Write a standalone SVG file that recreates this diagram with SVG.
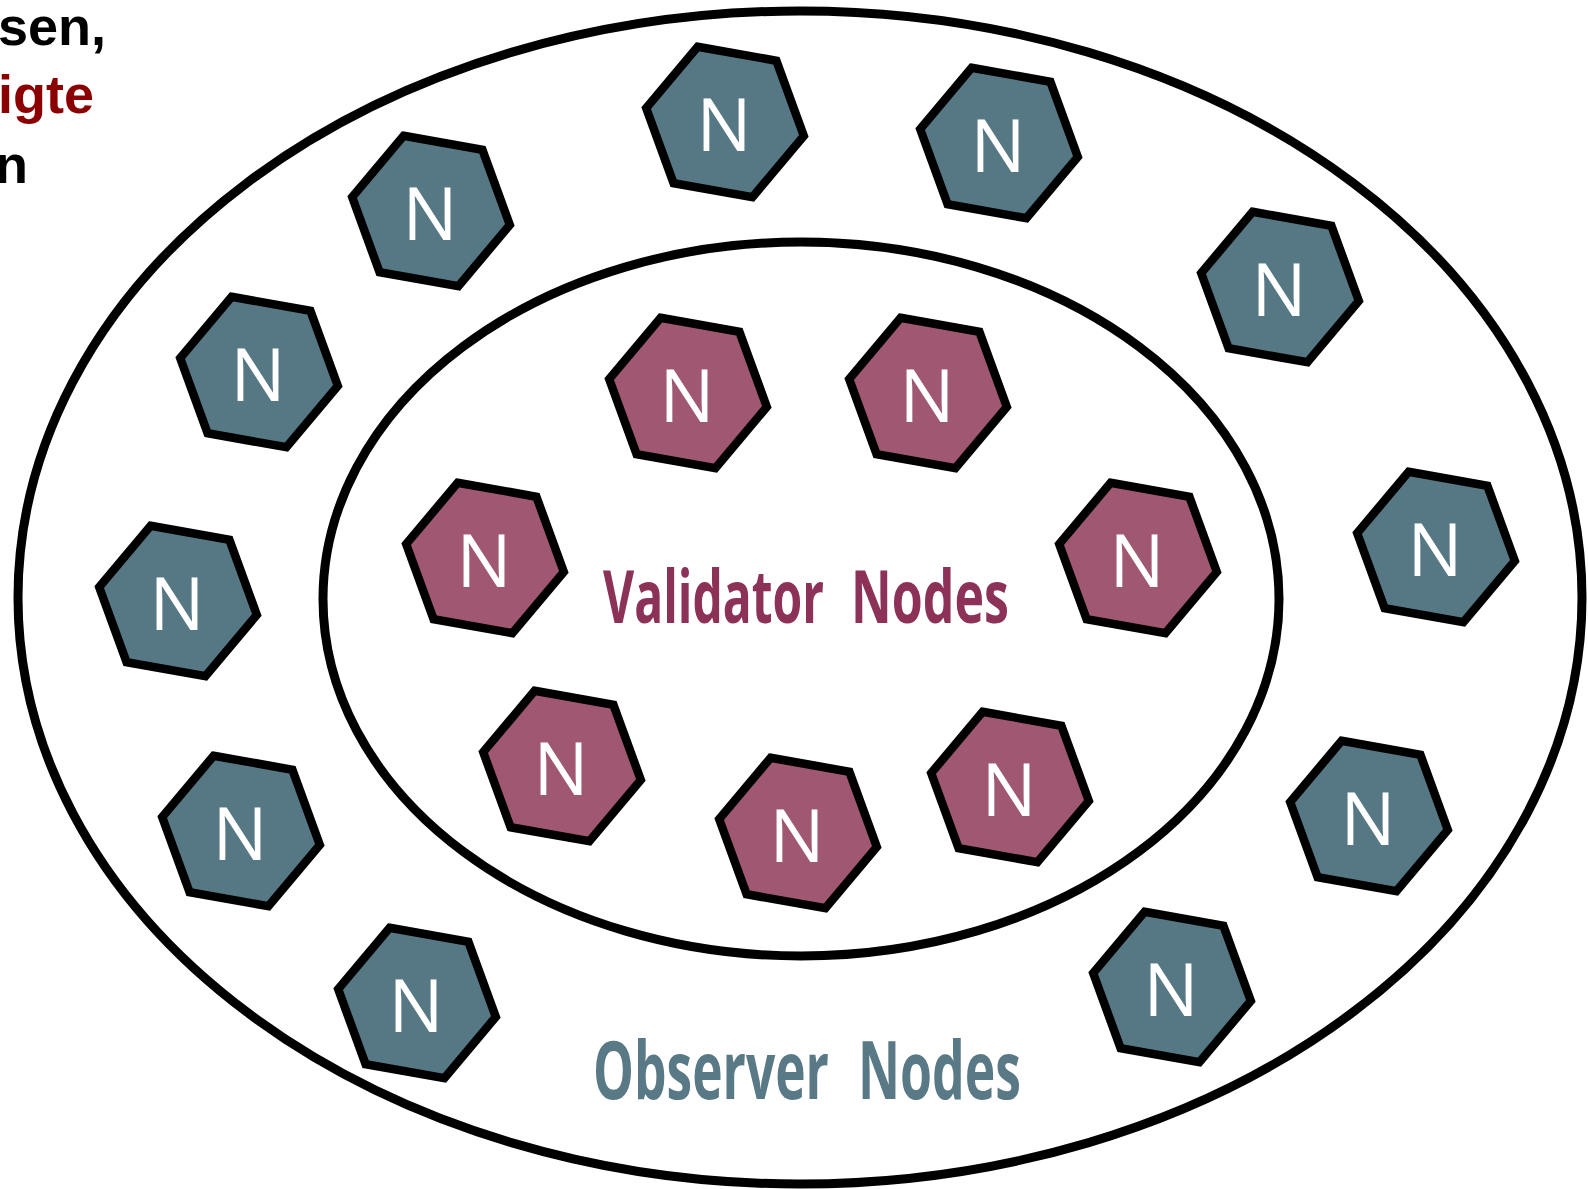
<svg xmlns="http://www.w3.org/2000/svg" xmlns:xlink="http://www.w3.org/1999/xlink" width="1588" height="1189" viewBox="0 0 1588 1189">
  <style>
    .ring { fill: none; stroke: #000; stroke-width: 9; }
    .hex { stroke: #000; stroke-width: 8.5; stroke-linejoin: miter; }
    .observer use { fill: #567884; }
    .validator use { fill: #A05872; }
    .n { font-family: "Open Sans", "Liberation Sans", sans-serif; font-size: 73px; fill: #fff; text-anchor: middle; }
    .caption { font-family: "Open Sans", "Liberation Sans", sans-serif; font-weight: 700; }
    .side { font-family: "Liberation Sans", Arial, sans-serif; font-weight: bold; font-size: 54px; text-anchor: end; }
  </style>
  <defs>
    <!-- regular hexagon, radius 80, tilted 10 degrees; fill comes from the <use> -->
    <polygon id="hexShape" class="hex" points="-27.4,-75.2 51.4,-61.3 78.8,13.9 27.4,75.2 -51.4,61.3 -78.8,-13.9"/>
  </defs>

  <rect width="1588" height="1189" fill="#fff"/>

  <!-- side text running off the left edge -->
  <g id="side-text">
    <text class="side" x="106" y="45" fill="#000">sen,</text>
    <text class="side" x="94" y="113" fill="#8B0000">igte</text>
    <text class="side" x="28" y="183" fill="#000">n</text>
  </g>

  <!-- rings -->
  <g id="connectors">
    <ellipse id="outer-ring" class="ring" cx="800" cy="597.5" rx="782" ry="586.5"/>
    <ellipse id="inner-ring" class="ring" cx="801" cy="599" rx="478" ry="357"/>
  </g>

  <!-- observer nodes -->
  <g class="observer">
    <g id="obs-1" transform="translate(725,122)"><use xlink:href="#hexShape"/><text class="n" x="-1" y="28.5">N</text></g>
    <g id="obs-2" transform="translate(999,143)"><use xlink:href="#hexShape"/><text class="n" x="-1" y="28.5">N</text></g>
    <g id="obs-3" transform="translate(431,211)"><use xlink:href="#hexShape"/><text class="n" x="-1" y="28.5">N</text></g>
    <g id="obs-4" transform="translate(259,372)"><use xlink:href="#hexShape"/><text class="n" x="-1" y="28.5">N</text></g>
    <g id="obs-5" transform="translate(1280,287)"><use xlink:href="#hexShape"/><text class="n" x="-1" y="28.5">N</text></g>
    <g id="obs-6" transform="translate(178,601)"><use xlink:href="#hexShape"/><text class="n" x="-1" y="28.5">N</text></g>
    <g id="obs-7" transform="translate(1436,547)"><use xlink:href="#hexShape"/><text class="n" x="-1" y="28.5">N</text></g>
    <g id="obs-8" transform="translate(241,831)"><use xlink:href="#hexShape"/><text class="n" x="-1" y="28.5">N</text></g>
    <g id="obs-9" transform="translate(1369,816)"><use xlink:href="#hexShape"/><text class="n" x="-1" y="28.5">N</text></g>
    <g id="obs-10" transform="translate(417,1003)"><use xlink:href="#hexShape"/><text class="n" x="-1" y="28.5">N</text></g>
    <g id="obs-11" transform="translate(1172,987)"><use xlink:href="#hexShape"/><text class="n" x="-1" y="28.5">N</text></g>
  </g>

  <!-- validator nodes -->
  <g class="validator">
    <g id="val-1" transform="translate(688,393)"><use xlink:href="#hexShape"/><text class="n" x="-1" y="28.5">N</text></g>
    <g id="val-2" transform="translate(928,393)"><use xlink:href="#hexShape"/><text class="n" x="-1" y="28.5">N</text></g>
    <g id="val-3" transform="translate(485,558)"><use xlink:href="#hexShape"/><text class="n" x="-1" y="28.5">N</text></g>
    <g id="val-4" transform="translate(1138,558)"><use xlink:href="#hexShape"/><text class="n" x="-1" y="28.5">N</text></g>
    <g id="val-5" transform="translate(562,766)"><use xlink:href="#hexShape"/><text class="n" x="-1" y="28.5">N</text></g>
    <g id="val-6" transform="translate(798,833)"><use xlink:href="#hexShape"/><text class="n" x="-1" y="28.5">N</text></g>
    <g id="val-7" transform="translate(1010,787)"><use xlink:href="#hexShape"/><text class="n" x="-1" y="28.5">N</text></g>
  </g>

  <!-- ring captions -->
  <g id="validator-label" class="caption" fill="#8C3157" font-size="74">
    <text x="603" y="623" textLength="221" lengthAdjust="spacingAndGlyphs">Validator</text>
    <text x="851" y="623" textLength="158" lengthAdjust="spacingAndGlyphs">Nodes</text>
  </g>
  <g id="observer-label" class="caption" fill="#587985" font-size="80">
    <text x="593" y="1099" textLength="236" lengthAdjust="spacingAndGlyphs">Observer</text>
    <text x="858" y="1099" textLength="163" lengthAdjust="spacingAndGlyphs">Nodes</text>
  </g>
</svg>
